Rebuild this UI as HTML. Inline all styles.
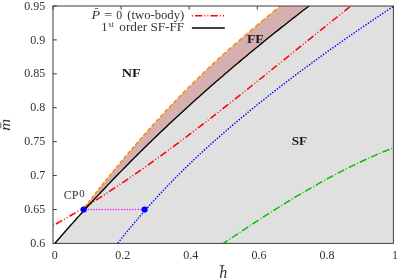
<!DOCTYPE html>
<html><head><meta charset="utf-8"><style>
html,body{margin:0;padding:0;background:#fff;}
svg{display:block;font-family:"Liberation Serif",serif;}
svg{will-change:transform;}
</style></head><body>
<svg width="399" height="279" viewBox="0 0 399 279">
<rect width="399" height="279" fill="#fff"/>
<defs><clipPath id="c"><rect x="53.0" y="6.0" width="340.4" height="237.4"/></clipPath></defs>
<g stroke="#3c3c3c" stroke-width="1" fill="none"><path d="M53.0,6.00h3.8"/><path d="M53.0,39.91h3.8"/><path d="M53.0,73.83h3.8"/><path d="M53.0,107.74h3.8"/><path d="M53.0,141.66h3.8"/><path d="M53.0,175.57h3.8"/><path d="M53.0,209.49h3.8"/><path d="M53.0,243.40h3.8"/><path d="M53.00,6.0v3.6"/><path d="M121.08,6.0v3.6"/><path d="M189.16,6.0v3.6"/><path d="M257.24,6.0v3.6"/><path d="M325.32,6.0v3.6"/><path d="M393.40,6.0v3.6"/></g>
<g clip-path="url(#c)">
<path d="M53.00,245.48 L55.18,242.96 L57.35,240.44 L59.53,237.94 L61.71,235.44 L63.88,232.96 L66.06,230.49 L68.24,228.02 L70.41,225.57 L72.59,223.13 L74.76,220.70 L76.94,218.27 L79.12,215.86 L81.29,213.46 L83.47,211.06 L85.65,208.68 L87.82,206.31 L90.00,203.95 L92.18,201.59 L94.35,199.25 L96.53,196.91 L98.71,194.59 L100.88,192.27 L103.06,189.97 L105.24,187.67 L107.41,185.38 L109.59,183.10 L111.76,180.83 L113.94,178.57 L116.12,176.32 L118.29,174.08 L120.47,171.85 L122.65,169.62 L124.82,167.41 L127.00,165.20 L129.18,163.00 L131.35,160.81 L133.53,158.63 L135.71,156.46 L137.88,154.29 L140.06,152.14 L142.24,149.99 L144.41,147.85 L146.59,145.72 L148.76,143.60 L150.94,141.48 L153.12,139.38 L155.29,137.28 L157.47,135.19 L159.65,133.11 L161.82,131.03 L164.00,128.97 L166.18,126.91 L168.35,124.86 L170.53,122.81 L172.71,120.78 L174.88,118.75 L177.06,116.73 L179.24,114.71 L181.41,112.71 L183.59,110.71 L185.76,108.72 L187.94,106.73 L190.12,104.75 L192.29,102.78 L194.47,100.82 L196.65,98.86 L198.82,96.91 L201.00,94.97 L203.18,93.04 L205.35,91.11 L207.53,89.18 L209.71,87.27 L211.88,85.36 L214.06,83.46 L216.24,81.56 L218.41,79.67 L220.59,77.78 L222.76,75.91 L224.94,74.04 L227.12,72.17 L229.29,70.31 L231.47,68.46 L233.65,66.61 L235.82,64.77 L238.00,62.94 L240.18,61.11 L242.35,59.28 L244.53,57.47 L246.71,55.65 L248.88,53.85 L251.06,52.05 L253.24,50.25 L255.41,48.46 L257.59,46.68 L259.76,44.90 L261.94,43.12 L264.12,41.35 L266.29,39.59 L268.47,37.83 L270.65,36.08 L272.82,34.33 L275.00,32.59 L277.18,30.85 L279.35,29.11 L281.53,27.38 L283.71,25.66 L285.88,23.94 L288.06,22.22 L290.24,20.51 L292.41,18.81 L294.59,17.11 L296.76,15.41 L298.94,13.72 L301.12,12.03 L303.29,10.34 L305.47,8.66 L307.65,6.98 L309.82,5.31 L393.40,5.00 L393.40,243.40 L53.00,243.40Z" fill="#e0e0e0"/>
<path d="M83.60,208.63 L86.12,205.37 L88.65,202.11 L91.17,198.88 L93.70,195.66 L96.22,192.46 L98.74,189.27 L101.27,186.10 L103.79,182.95 L106.32,179.82 L108.84,176.70 L111.36,173.60 L113.89,170.52 L116.41,167.46 L118.94,164.41 L121.46,161.38 L123.98,158.37 L126.51,155.38 L129.03,152.40 L131.56,149.44 L134.08,146.50 L136.61,143.58 L139.13,140.67 L141.65,137.79 L144.18,134.92 L146.70,132.07 L149.23,129.24 L151.75,126.42 L154.27,123.63 L156.80,120.85 L159.32,118.09 L161.85,115.35 L164.37,112.63 L166.89,109.93 L169.42,107.25 L171.94,104.58 L174.47,101.94 L176.99,99.31 L179.51,96.70 L182.04,94.11 L184.56,91.54 L187.09,88.99 L189.61,86.46 L192.13,83.95 L194.66,81.46 L197.18,78.99 L199.71,76.53 L202.23,74.10 L204.75,71.68 L207.28,69.29 L209.80,66.92 L212.33,64.56 L214.85,62.22 L217.37,59.91 L219.90,57.61 L222.42,55.32 L224.95,53.05 L227.47,50.80 L229.99,48.56 L232.52,46.34 L235.04,44.13 L237.57,41.93 L240.09,39.74 L242.62,37.57 L245.14,35.40 L247.66,33.25 L250.19,31.10 L252.71,28.96 L255.24,26.83 L257.76,24.70 L260.28,22.58 L262.81,20.47 L265.33,18.36 L267.86,16.26 L270.38,14.16 L272.90,12.07 L275.43,9.99 L277.95,7.91 L280.48,5.83 L283.00,3.76 L309.82,5.00 L309.82,5.31 L307.65,6.98 L305.47,8.66 L303.29,10.34 L301.12,12.03 L298.94,13.72 L296.76,15.41 L294.59,17.11 L292.41,18.81 L290.24,20.51 L288.06,22.22 L285.88,23.94 L283.71,25.66 L281.53,27.38 L279.35,29.11 L277.18,30.85 L275.00,32.59 L272.82,34.33 L270.65,36.08 L268.47,37.83 L266.29,39.59 L264.12,41.35 L261.94,43.12 L259.76,44.90 L257.59,46.68 L255.41,48.46 L253.24,50.25 L251.06,52.05 L248.88,53.85 L246.71,55.65 L244.53,57.47 L242.35,59.28 L240.18,61.11 L238.00,62.94 L235.82,64.77 L233.65,66.61 L231.47,68.46 L229.29,70.31 L227.12,72.17 L224.94,74.04 L222.76,75.91 L220.59,77.78 L218.41,79.67 L216.24,81.56 L214.06,83.46 L211.88,85.36 L209.71,87.27 L207.53,89.18 L205.35,91.11 L203.18,93.04 L201.00,94.97 L198.82,96.91 L196.65,98.86 L194.47,100.82 L192.29,102.78 L190.12,104.75 L187.94,106.73 L185.76,108.72 L183.59,110.71 L181.41,112.71 L179.24,114.71 L177.06,116.73 L174.88,118.75 L172.71,120.78 L170.53,122.81 L168.35,124.86 L166.18,126.91 L164.00,128.97 L161.82,131.03 L159.65,133.11 L157.47,135.19 L155.29,137.28 L153.12,139.38 L150.94,141.48 L148.76,143.60 L146.59,145.72 L144.41,147.85 L142.24,149.99 L140.06,152.14 L137.88,154.29 L135.71,156.46 L133.53,158.63 L131.35,160.81 L129.18,163.00 L127.00,165.20 L124.82,167.41 L122.65,169.62 L120.47,171.85 L118.29,174.08 L116.12,176.32 L113.94,178.57 L111.76,180.83 L109.59,183.10 L107.41,185.38 L105.24,187.67 L103.06,189.97 L100.88,192.27 L98.71,194.59 L96.53,196.91 L94.35,199.25 L92.18,201.59 L90.00,203.95 L87.82,206.31 L85.65,208.68Z" fill="#d6b0b0"/>
<path d="M222.50,244.03 L224.66,242.56 L226.83,241.10 L228.99,239.64 L231.15,238.19 L233.32,236.73 L235.48,235.29 L237.64,233.84 L239.81,232.40 L241.97,230.96 L244.13,229.53 L246.30,228.10 L248.46,226.68 L250.62,225.26 L252.79,223.84 L254.95,222.43 L257.11,221.02 L259.28,219.62 L261.44,218.22 L263.60,216.83 L265.77,215.45 L267.93,214.07 L270.09,212.69 L272.26,211.32 L274.42,209.96 L276.58,208.60 L278.75,207.25 L280.91,205.91 L283.07,204.57 L285.24,203.23 L287.40,201.91 L289.56,200.59 L291.73,199.28 L293.89,197.97 L296.05,196.68 L298.22,195.39 L300.38,194.10 L302.54,192.83 L304.71,191.56 L306.87,190.30 L309.03,189.05 L311.19,187.80 L313.36,186.57 L315.52,185.34 L317.68,184.12 L319.85,182.91 L322.01,181.71 L324.17,180.52 L326.34,179.34 L328.50,178.16 L330.66,177.00 L332.83,175.84 L334.99,174.69 L337.15,173.56 L339.32,172.43 L341.48,171.31 L343.64,170.21 L345.81,169.11 L347.97,168.02 L350.13,166.95 L352.30,165.88 L354.46,164.83 L356.62,163.78 L358.79,162.75 L360.95,161.73 L363.11,160.72 L365.28,159.72 L367.44,158.73 L369.60,157.75 L371.77,156.79 L373.93,155.84 L376.09,154.90 L378.26,153.97 L380.42,153.05 L382.58,152.15 L384.75,151.26 L386.91,150.38 L389.07,149.51 L391.24,148.66 L393.40,147.82" fill="none" stroke="#00c000" stroke-width="1.45" stroke-dasharray="7.4,2,1,2" stroke-dashoffset="1.2"/>
<path d="M116.50,244.82 L120.01,240.37 L123.51,235.98 L127.02,231.66 L130.52,227.40 L134.03,223.20 L137.53,219.07 L141.04,214.99 L144.54,210.97 L148.05,207.01 L151.55,203.10 L155.06,199.24 L158.56,195.44 L162.07,191.69 L165.57,187.99 L169.08,184.34 L172.58,180.74 L176.09,177.18 L179.59,173.67 L183.10,170.21 L186.60,166.78 L190.11,163.40 L193.61,160.06 L197.12,156.75 L200.62,153.48 L204.13,150.25 L207.63,147.06 L211.14,143.89 L214.64,140.76 L218.15,137.66 L221.65,134.60 L225.16,131.56 L228.66,128.54 L232.17,125.55 L235.67,122.59 L239.18,119.65 L242.68,116.73 L246.19,113.84 L249.69,110.96 L253.20,108.11 L256.70,105.27 L260.21,102.45 L263.71,99.65 L267.22,96.87 L270.72,94.11 L274.23,91.36 L277.73,88.63 L281.24,85.92 L284.74,83.23 L288.25,80.55 L291.75,77.89 L295.26,75.25 L298.76,72.62 L302.27,70.01 L305.77,67.41 L309.28,64.82 L312.78,62.25 L316.29,59.70 L319.79,57.15 L323.30,54.63 L326.80,52.11 L330.31,49.61 L333.81,47.12 L337.32,44.64 L340.82,42.17 L344.33,39.72 L347.83,37.27 L351.34,34.84 L354.84,32.42 L358.35,30.00 L361.85,27.60 L365.36,25.21 L368.86,22.82 L372.37,20.45 L375.87,18.08 L379.38,15.72 L382.88,13.37 L386.39,11.03 L389.89,8.70 L393.40,6.37" fill="none" stroke="#0000ff" stroke-width="1.5" stroke-linecap="round" stroke-dasharray="0.1,2.78" stroke-dashoffset="0"/>
<path d="M53.00,225.58 L56.81,223.47 L60.62,221.33 L64.43,219.16 L68.24,216.96 L72.05,214.73 L75.86,212.48 L79.67,210.19 L83.48,207.88 L87.29,205.54 L91.10,203.18 L94.91,200.78 L98.72,198.37 L102.53,195.92 L106.34,193.46 L110.15,190.97 L113.96,188.45 L117.77,185.91 L121.58,183.35 L125.39,180.77 L129.20,178.17 L133.01,175.54 L136.82,172.89 L140.63,170.23 L144.44,167.54 L148.25,164.84 L152.06,162.11 L155.87,159.37 L159.68,156.61 L163.49,153.83 L167.30,151.03 L171.11,148.22 L174.92,145.40 L178.73,142.55 L182.54,139.70 L186.35,136.82 L190.16,133.94 L193.97,131.04 L197.78,128.13 L201.59,125.20 L205.41,122.27 L209.22,119.32 L213.03,116.36 L216.84,113.39 L220.65,110.41 L224.46,107.42 L228.27,104.42 L232.08,101.41 L235.89,98.40 L239.70,95.37 L243.51,92.34 L247.32,89.30 L251.13,86.26 L254.94,83.21 L258.75,80.16 L262.56,77.10 L266.37,74.04 L270.18,70.97 L273.99,67.90 L277.80,64.82 L281.61,61.75 L285.42,58.67 L289.23,55.59 L293.04,52.51 L296.85,49.43 L300.66,46.35 L304.47,43.27 L308.28,40.19 L312.09,37.12 L315.90,34.04 L319.71,30.97 L323.52,27.90 L327.33,24.83 L331.14,21.77 L334.95,18.71 L338.76,15.66 L342.57,12.61 L346.38,9.57 L350.19,6.54 L354.00,3.51" fill="none" stroke="#ff0000" stroke-width="1.5" stroke-dasharray="7.2,2.1,1,2.1,1,2.2" stroke-dashoffset="12.3"/>
<path d="M84.82,207.05 L85.26,206.48 L85.71,205.90 L86.15,205.33 L86.60,204.75 L87.04,204.18M88.14,202.77 L88.59,202.19 L89.04,201.61 L89.49,201.04 L89.94,200.46 L90.39,199.88M91.50,198.46 L91.95,197.88 L92.41,197.30 L92.86,196.72 L93.32,196.14 L93.78,195.56M94.90,194.13 L95.36,193.55 L95.82,192.96 L96.28,192.38 L96.74,191.79 L97.21,191.21M98.35,189.77 L98.81,189.19 L99.28,188.60 L99.75,188.01 L100.21,187.42 L100.68,186.84M101.84,185.39 L102.31,184.80 L102.78,184.21 L103.26,183.62 L103.73,183.03 L104.20,182.44M105.37,180.99 L105.85,180.40 L106.33,179.80 L106.81,179.21 L107.29,178.62 L107.77,178.02M108.95,176.56 L109.44,175.97 L109.92,175.37 L110.41,174.77 L110.90,174.18 L111.38,173.58M112.58,172.11 L113.08,171.51 L113.57,170.91 L114.06,170.31 L114.55,169.72 L115.05,169.12M116.26,167.64 L116.76,167.04 L117.26,166.44 L117.76,165.83 L118.26,165.23 L118.76,164.63M119.99,163.15 L120.49,162.54 L121.00,161.94 L121.50,161.33 L122.01,160.72 L122.52,160.12M123.77,158.63 L124.28,158.02 L124.79,157.41 L125.30,156.81 L125.82,156.20 L126.33,155.59M127.59,154.09 L128.11,153.48 L128.63,152.87 L129.15,152.26 L129.67,151.65 L130.19,151.04M131.48,149.54 L132.00,148.92 L132.53,148.31 L133.06,147.69 L133.58,147.08 L134.11,146.47M135.41,144.96 L135.95,144.34 L136.48,143.72 L137.01,143.11 L137.55,142.49 L138.08,141.88M139.40,140.36 L139.94,139.74 L140.48,139.12 L141.03,138.50 L141.57,137.88 L142.11,137.27M143.45,135.75 L144.00,135.12 L144.55,134.50 L145.10,133.88 L145.65,133.26 L146.20,132.64M147.55,131.11 L148.11,130.49 L148.67,129.86 L149.22,129.24 L149.78,128.62 L150.34,127.99M151.72,126.46 L152.28,125.83 L152.85,125.21 L153.41,124.58 L153.98,123.96 L154.54,123.33M155.94,121.79 L156.51,121.17 L157.08,120.54 L157.66,119.91 L158.23,119.28 L158.81,118.66M160.22,117.11 L160.80,116.48 L161.39,115.85 L161.97,115.22 L162.55,114.59 L163.13,113.96M164.57,112.42 L165.16,111.78 L165.75,111.15 L166.34,110.52 L166.93,109.89 L167.52,109.26M168.98,107.71 L169.58,107.07 L170.18,106.44 L170.78,105.81 L171.38,105.17 L171.98,104.54M173.46,102.99 L174.07,102.35 L174.68,101.72 L175.29,101.08 L175.90,100.45 L176.50,99.81M178.01,98.26 L178.63,97.62 L179.24,96.98 L179.86,96.35 L180.48,95.71 L181.10,95.08M182.62,93.52 L183.25,92.88 L183.88,92.24 L184.50,91.60 L185.13,90.97 L185.76,90.33M187.31,88.77 L187.95,88.13 L188.58,87.49 L189.22,86.85 L189.86,86.21 L190.50,85.58M192.07,84.01 L192.72,83.37 L193.36,82.73 L194.01,82.10 L194.66,81.46 L195.31,80.82M196.91,79.25 L197.56,78.61 L198.22,77.97 L198.88,77.34 L199.54,76.70 L200.19,76.06M201.82,74.49 L202.49,73.85 L203.15,73.21 L203.82,72.57 L204.49,71.94 L205.16,71.30M206.81,69.73 L207.49,69.09 L208.17,68.45 L208.85,67.81 L209.53,67.18 L210.21,66.54M211.88,64.97 L212.57,64.33 L213.26,63.69 L213.95,63.05 L214.64,62.42 L215.33,61.78M217.04,60.21 L217.74,59.57 L218.44,58.94 L219.14,58.30 L219.84,57.66 L220.54,57.02M222.27,55.46 L222.98,54.82 L223.69,54.18 L224.40,53.54 L225.12,52.90 L225.83,52.27M227.59,50.70 L228.31,50.06 L229.03,49.42 L229.75,48.78 L230.47,48.14 L231.19,47.51M232.98,45.94 L233.71,45.30 L234.44,44.66 L235.17,44.02 L235.90,43.38 L236.64,42.74M238.44,41.17 L239.18,40.53 L239.92,39.89 L240.67,39.25 L241.41,38.61 L242.15,37.97M243.98,36.40 L244.73,35.75 L245.48,35.11 L246.23,34.47 L246.98,33.83 L247.74,33.19M249.59,31.61 L250.35,30.96 L251.11,30.32 L251.87,29.67 L252.63,29.03 L253.39,28.39M255.26,26.80 L256.03,26.16 L256.80,25.51 L257.57,24.86 L258.34,24.22 L259.11,23.57M261.00,21.98 L261.78,21.33 L262.56,20.68 L263.34,20.03 L264.11,19.38 L264.89,18.73M266.81,17.13 L267.59,16.48 L268.38,15.83 L269.16,15.17 L269.95,14.52 L270.74,13.87M272.67,12.26 L273.47,11.61 L274.26,10.95 L275.06,10.29 L275.85,9.64 L276.65,8.98M278.60,7.37 L279.41,6.71 L280.21,6.05 L281.01,5.39 L281.82,4.73 L282.62,4.08" fill="none" stroke="#ff8c00" stroke-width="1.55"/>
<path d="M53.00,245.48 L55.18,242.96 L57.35,240.44 L59.53,237.94 L61.71,235.44 L63.88,232.96 L66.06,230.49 L68.24,228.02 L70.41,225.57 L72.59,223.13 L74.76,220.70 L76.94,218.27 L79.12,215.86 L81.29,213.46 L83.47,211.06 L85.65,208.68 L87.82,206.31 L90.00,203.95 L92.18,201.59 L94.35,199.25 L96.53,196.91 L98.71,194.59 L100.88,192.27 L103.06,189.97 L105.24,187.67 L107.41,185.38 L109.59,183.10 L111.76,180.83 L113.94,178.57 L116.12,176.32 L118.29,174.08 L120.47,171.85 L122.65,169.62 L124.82,167.41 L127.00,165.20 L129.18,163.00 L131.35,160.81 L133.53,158.63 L135.71,156.46 L137.88,154.29 L140.06,152.14 L142.24,149.99 L144.41,147.85 L146.59,145.72 L148.76,143.60 L150.94,141.48 L153.12,139.38 L155.29,137.28 L157.47,135.19 L159.65,133.11 L161.82,131.03 L164.00,128.97 L166.18,126.91 L168.35,124.86 L170.53,122.81 L172.71,120.78 L174.88,118.75 L177.06,116.73 L179.24,114.71 L181.41,112.71 L183.59,110.71 L185.76,108.72 L187.94,106.73 L190.12,104.75 L192.29,102.78 L194.47,100.82 L196.65,98.86 L198.82,96.91 L201.00,94.97 L203.18,93.04 L205.35,91.11 L207.53,89.18 L209.71,87.27 L211.88,85.36 L214.06,83.46 L216.24,81.56 L218.41,79.67 L220.59,77.78 L222.76,75.91 L224.94,74.04 L227.12,72.17 L229.29,70.31 L231.47,68.46 L233.65,66.61 L235.82,64.77 L238.00,62.94 L240.18,61.11 L242.35,59.28 L244.53,57.47 L246.71,55.65 L248.88,53.85 L251.06,52.05 L253.24,50.25 L255.41,48.46 L257.59,46.68 L259.76,44.90 L261.94,43.12 L264.12,41.35 L266.29,39.59 L268.47,37.83 L270.65,36.08 L272.82,34.33 L275.00,32.59 L277.18,30.85 L279.35,29.11 L281.53,27.38 L283.71,25.66 L285.88,23.94 L288.06,22.22 L290.24,20.51 L292.41,18.81 L294.59,17.11 L296.76,15.41 L298.94,13.72 L301.12,12.03 L303.29,10.34 L305.47,8.66 L307.65,6.98 L309.82,5.31" fill="none" stroke="#000" stroke-width="1.35"/>
<path d="M83.7,209.5H144.6" fill="none" stroke="#ff00ff" stroke-width="1.35" stroke-linecap="round" stroke-dasharray="0.1,2.67" stroke-dashoffset="-1.95"/>
</g>
<circle cx="83.7" cy="209.5" r="3.1" fill="#0000ff"/>
<circle cx="144.6" cy="209.5" r="3.1" fill="#0000ff"/>
<path d="M191.9,15.75H224.6" stroke="#ff0000" stroke-width="1.5" stroke-dasharray="7.2,2.1,1,2.1,1,2.2" stroke-dashoffset="12.5" fill="none"/>
<path d="M191.9,28H224.8" stroke="#000" stroke-width="1.5" fill="none"/>
<g stroke="#3c3c3c" stroke-width="1" fill="none">
<rect x="53.0" y="6.0" width="340.4" height="237.4"/>
</g>
<g font-size="12" fill="#333">
<text x="45.3" y="9.60" text-anchor="end">0.95</text>
<text x="45.3" y="43.51" text-anchor="end">0.9</text>
<text x="45.3" y="77.43" text-anchor="end">0.85</text>
<text x="45.3" y="111.34" text-anchor="end">0.8</text>
<text x="45.3" y="145.26" text-anchor="end">0.75</text>
<text x="45.3" y="179.17" text-anchor="end">0.7</text>
<text x="45.3" y="213.09" text-anchor="end">0.65</text>
<text x="45.3" y="247.00" text-anchor="end">0.6</text>
<text x="54.70" y="259.4" text-anchor="middle">0</text>
<text x="122.78" y="259.4" text-anchor="middle">0.2</text>
<text x="190.86" y="259.4" text-anchor="middle">0.4</text>
<text x="258.94" y="259.4" text-anchor="middle">0.6</text>
<text x="327.02" y="259.4" text-anchor="middle">0.8</text>
<text x="395.10" y="259.4" text-anchor="middle">1</text>
<g font-size="12.5">
<text x="91.4" y="18.7" font-style="italic" textLength="8.6" lengthAdjust="spacingAndGlyphs">P</text>
<text x="104.3" y="18.7" textLength="8.1" lengthAdjust="spacingAndGlyphs">=</text>
<text x="116.2" y="18.7" textLength="5.9" lengthAdjust="spacingAndGlyphs">0</text>
<text x="127.3" y="18.7" textLength="56.9" lengthAdjust="spacingAndGlyphs">(two-body)</text>
<text x="101.2" y="30.6">1</text>
<text x="108.6" y="26.6" font-size="8.6" textLength="5.2" lengthAdjust="spacingAndGlyphs">st</text>
<text x="119.3" y="30.6" textLength="64.9" lengthAdjust="spacingAndGlyphs">order SF-FF</text>
</g>
<text x="63.7" y="199.2" textLength="14.8" lengthAdjust="spacingAndGlyphs">CP</text>
<text x="79.3" y="196.7" font-size="9.3" textLength="5.4" lengthAdjust="spacingAndGlyphs">0</text>
</g>
<path d="M94.6,8.6h3.6" stroke="#333" stroke-width="0.7"/>
<g font-size="13" font-weight="bold" fill="#1a1a1a">
<text x="121.8" y="76.8" textLength="19" lengthAdjust="spacingAndGlyphs">NF</text>
<text x="247" y="43.1" textLength="16.7" lengthAdjust="spacingAndGlyphs">FF</text>
<text x="291.8" y="144.8" textLength="15.3" lengthAdjust="spacingAndGlyphs">SF</text>
</g>
<g font-size="16" font-style="italic" fill="#333">
<text x="219.2" y="278.2">h</text>
<text transform="translate(9.8,130.7) rotate(-90)" font-size="15.5" textLength="11.9" lengthAdjust="spacingAndGlyphs">m</text>
</g>
<path d="M219.7,265.4h4.6" stroke="#333" stroke-width="0.8"/>
<path d="M0.8,122.5v5.8" stroke="#333" stroke-width="0.8"/>
</svg>
</body></html>
